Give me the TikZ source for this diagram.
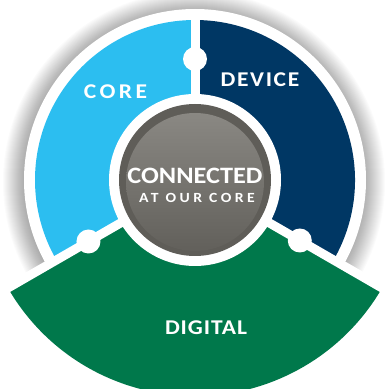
\documentclass[tikz,border=0pt]{standalone}
\usepackage{fontspec}
\usetikzlibrary{calc}
\setmainfont{Carlito}
\newfontfamily\fcore{Carlito}[LetterSpace=15]
\newfontfamily\fdev{Carlito}[LetterSpace=7]
\newfontfamily\fdig{Carlito}[LetterSpace=4]
\newfontfamily\fcon{Carlito}
\newfontfamily\fat{Carlito}[LetterSpace=22]
\definecolor{lblue}{HTML}{2CBEF0}
\definecolor{dblue}{HTML}{003764}
\definecolor{dgreen}{HTML}{00784B}
\definecolor{gring}{HTML}{5F5D58}
\definecolor{gtop}{HTML}{8A8883}
\definecolor{gbot}{HTML}{62605B}
\begin{document}
\begin{tikzpicture}[x=1pt,y=1pt,
  seg/.style={line width=9pt,white,line cap=butt},
  dot/.style={circle,fill=white,inner sep=0pt,minimum size=24pt},
  lbl/.style={text=white,inner sep=0pt},
]
\useasboundingbox (0,0) rectangle (387,389);
\fill[white] (0,0) rectangle (387,389);
\coordinate (c) at (195,209);
% shadow
\foreach \i in {1,...,22}{
  \fill[black,opacity=0.014] ($(c)+(-1,-2)$) circle (169+\i);
}
\fill[white] (c) circle (171);
% sectors
\fill[lblue] (c) -- ++(90:160) arc[start angle=90,end angle=210,radius=160] -- cycle;
\fill[dblue] (c) -- ++(-30:160) arc[start angle=-30,end angle=90,radius=160] -- cycle;
\fill[dgreen] (c) -- ++(210:216) arc[start angle=210,end angle=330,radius=216] -- cycle;
% separators
\coordinate (e1) at ($(c)+(90:171)$);
\coordinate (e2) at ($(c)+(210:219)$);
\coordinate (e3) at ($(c)+(330:219)$);
\draw[seg] (c) -- (e1);
\draw[seg] (c) -- (e2);
\draw[seg] (c) -- (e3);
\node[dot] (d1) at ($(c)+(90:121)$) {};
\node[dot] (d2) at ($(c)+(210:123)$) {};
\node[dot] (d3) at ($(c)+(330:121)$) {};
% centre
\fill[white] (c) circle (86);
\fill[gring] (c) circle (76);
\shade[top color=gtop,bottom color=gbot] ($(c)+(0,-2)$) circle (69);
% labels
\node[lbl] (core) at (115.5,297) {\scalebox{1.12}[1]{\fcore\bfseries\fontsize{21}{21}\selectfont CORE}};
\node[lbl] (device) at (260,309) {\scalebox{1.12}[1]{\fdev\bfseries\fontsize{21}{21}\selectfont DEVICE}};
\node[lbl] (digital) at (206,61) {\scalebox{1.12}[1]{\fdig\bfseries\fontsize{21}{21}\selectfont DIGITAL}};
\node[lbl] (conn) at (195,213.5) {\scalebox{1.12}[1]{\fcon\bfseries\fontsize{23.5}{23.5}\selectfont CONNECTED}};
\node[lbl] (at) at (197,191.5) {\scalebox{1.12}[1]{\fat\bfseries\fontsize{14}{14}\selectfont AT OUR CORE}};
\end{tikzpicture}
\end{document}
